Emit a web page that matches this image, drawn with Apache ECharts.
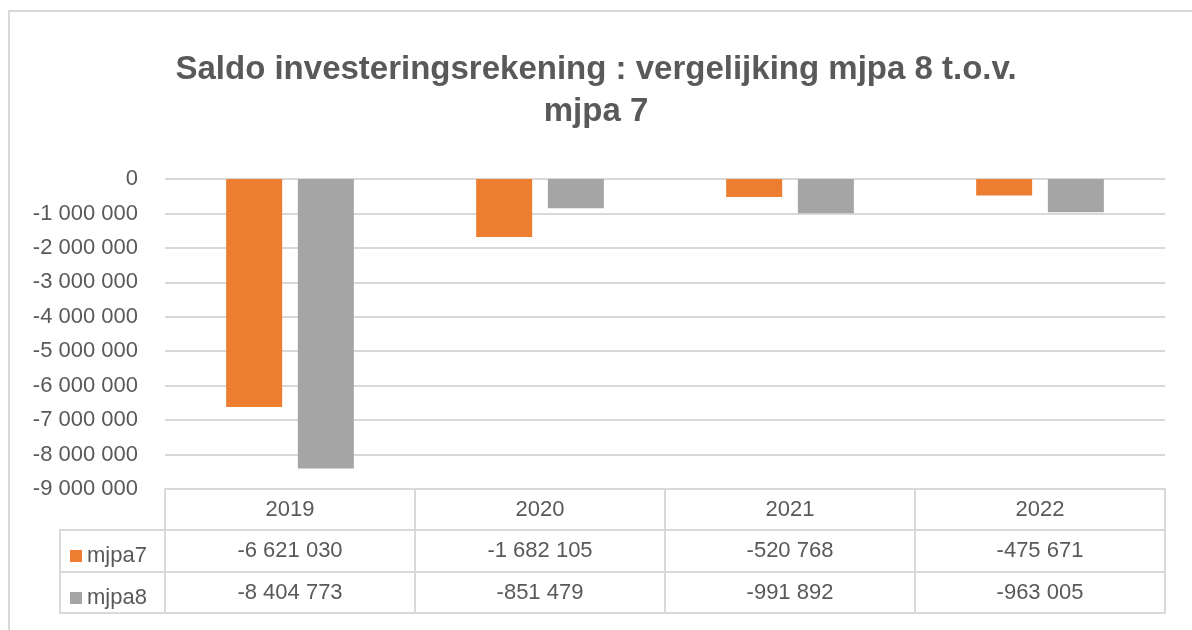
<!DOCTYPE html>
<html>
<head>
<meta charset="utf-8">
<script src="https://cdn.jsdelivr.net/npm/echarts@6/dist/echarts.min.js"></script>
<style>
  html, body { margin: 0; padding: 0; background: #fff; }
  #chart { width: 1192px; height: 630px; }
</style>
</head>
<body>
<div id="chart"></div>
<script>
// data
const years = ["2019", "2020", "2021", "2022"];
const mjpa7 = [-6621030, -1682105, -520768, -475671];
const mjpa8 = [-8404773, -851479, -991892, -963005];
const yMin = -9000000;
const yMax = 0;
const yStep = 1000000;
const titleLines = ["Saldo investeringsrekening : vergelijking mjpa 8 t.o.v.", "mjpa 7"];

const grey = "#595959";
const lineCol = "#d9d9d9";
const font = "Liberation Sans, Arial, sans-serif";

// -6621030 -> "-6 621 030"
const fmt = (v) => {
  const s = String(Math.abs(Math.round(v))).replace(/\B(?=(\d{3})+(?!\d))/g, " ");
  return (v < 0 ? "-" : "") + s;
};

const chart = echarts.init(document.getElementById("chart"));

// extra x axes act as rows of the data table under the plot
const tableRow = (data, offset, showLabel) => ({
  type: "category",
  data: data,
  position: "bottom",
  offset: offset,
  axisLine: { show: true, onZero: false, lineStyle: { color: lineCol, width: 2 } },
  axisTick: { show: false },
  axisLabel: {
    show: showLabel,
    margin: 10,
    interval: 0,
    color: grey,
    fontSize: 22,
    fontFamily: font,
  },
  splitLine: { show: false },
});

const titleStyle = {
  color: grey,
  fontSize: 33,
  fontWeight: "bold",
  fontFamily: font,
};

const options = {
  backgroundColor: "#fff",
  animation: false,
  title: [
    { text: titleLines[0], left: "center", top: 53, padding: [0, 0, 0, 22], textStyle: titleStyle },
    { text: titleLines[1], left: "center", top: 95, padding: [0, 0, 0, 18], textStyle: titleStyle },
  ],
  legend: {
    orient: "vertical",
    left: 65,
    top: 540,
    itemWidth: 12,
    itemHeight: 12,
    itemGap: 20,
    icon: "rect",
    data: ["mjpa7", "mjpa8"],
    textStyle: { color: grey, fontSize: 22, lineHeight: 22, fontFamily: font },
  },
  grid: {
    left: 165,
    right: 27,
    top: 179,
    bottom: 141,
  },
  xAxis: [
    {
      type: "category",
      data: years,
      position: "bottom",
      axisLine: { show: true, onZero: false, lineStyle: { color: lineCol, width: 2 } },
      axisTick: { show: true, interval: 0, length: 124, lineStyle: { color: lineCol, width: 2 } },
      axisLabel: { margin: 10, color: grey, fontSize: 22, fontFamily: font },
      splitLine: { show: false },
    },
    tableRow(mjpa7.map(fmt), 41, true),
    tableRow(mjpa8.map(fmt), 83, true),
    tableRow(years, 124, false),
  ],
  yAxis: {
    type: "value",
    min: yMin,
    max: yMax,
    interval: yStep,
    axisLine: { show: false },
    axisTick: { show: false },
    axisLabel: {
      margin: 27,
      color: grey,
      fontSize: 22,
      fontFamily: font,
      formatter: fmt,
    },
    splitLine: { lineStyle: { color: lineCol, width: 2 } },
  },
  graphic: [
    // outer frame (top + left edge visible)
    {
      type: "rect",
      shape: { x: 9, y: 11, width: 1300, height: 800 },
      style: { fill: null, stroke: lineCol, lineWidth: 2 },
      silent: true,
    },
    // legend column of the table
    {
      type: "rect",
      shape: { x: 60, y: 530, width: 105, height: 83 },
      style: { fill: null, stroke: lineCol, lineWidth: 2 },
      silent: true,
    },
    {
      type: "line",
      shape: { x1: 60, y1: 572, x2: 165, y2: 572 },
      style: { stroke: lineCol, lineWidth: 2 },
      silent: true,
    },
  ],
  series: [
    {
      name: "mjpa7",
      type: "bar",
      data: mjpa7,
      barWidth: 56,
      barGap: "28%",
      itemStyle: { color: "#ED7D31" },
    },
    {
      name: "mjpa8",
      type: "bar",
      data: mjpa8,
      barWidth: 56,
      barGap: "28%",
      itemStyle: { color: "#A5A5A5" },
    },
  ],
};

chart.setOption(options);
window.addEventListener("resize", () => chart.resize());
</script>
</body>
</html>
